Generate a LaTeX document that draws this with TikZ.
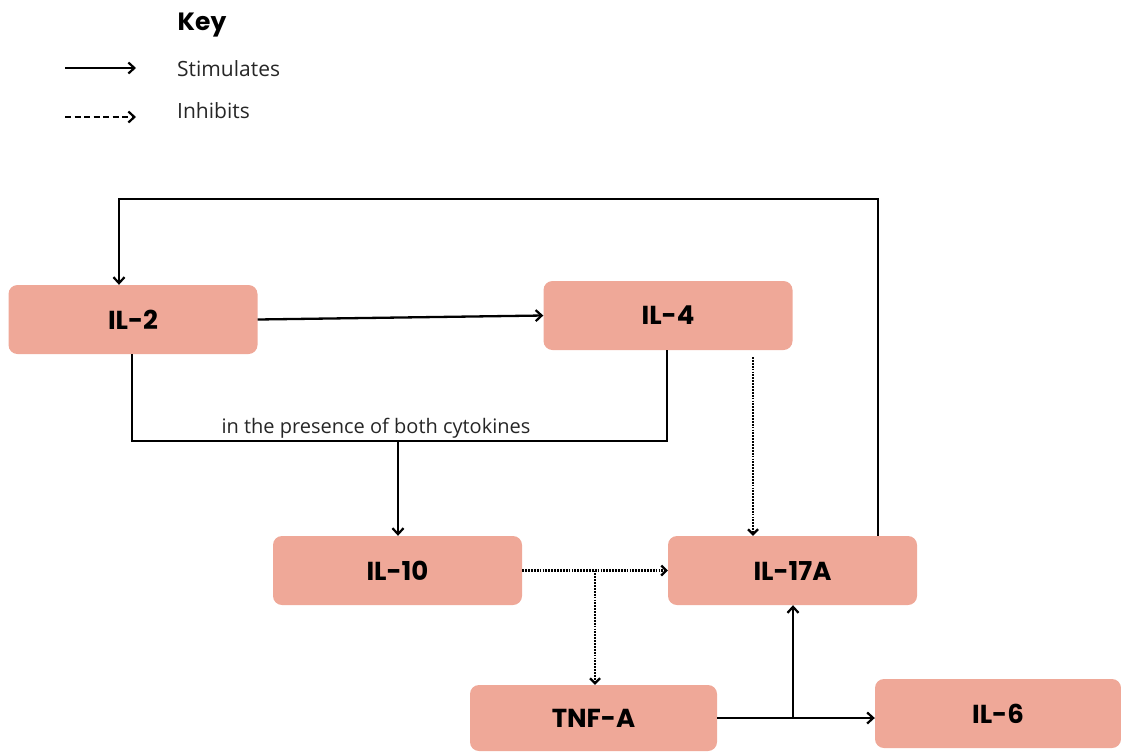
\documentclass[tikz,border=0pt]{standalone}
\usepackage{fontspec}
\setmainfont{Open Sans}
\newfontfamily\pop{Poppins}
\usetikzlibrary{arrows.meta}
\definecolor{boxfill}{HTML}{EFA898}
\tikzset{
  cyto/.style={fill=boxfill, rounded corners=9pt, minimum width=249pt, minimum height=69pt, inner sep=0pt,
    font=\pop\bfseries\fontsize{26}{30}\selectfont, text=black},
  conn/.style={line width=2.3pt, draw=black},
  stim/.style={conn, -{Straight Barb[length=6pt,width=11pt,line width=2.2pt]}},
  inh/.style={line width=2.5pt, draw=black, dash pattern=on 1.8pt off 1.1pt, -{Straight Barb[length=5pt,width=10pt,line width=2.2pt]}},
  inhkey/.style={line width=2.4pt, draw=black, dash pattern=on 6pt off 3.5pt, -{Straight Barb[length=6pt,width=11pt,line width=2.2pt]}},
  keytxt/.style={font=\fontsize{21}{24}\selectfont, anchor=west, inner sep=0pt, text=black!85},
}
\begin{document}
\begin{tikzpicture}[x=1pt, y=-1pt]
\useasboundingbox (0,0) rectangle (1121,753);
% key
\node[font=\pop\bfseries\fontsize{25}{28}\selectfont, inner sep=0pt] (key) at (202,25) {Key};
\coordinate (k1s) at (65,68);
\coordinate (k1e) at (136,68);
\coordinate (k2s) at (65,117);
\coordinate (k2e) at (136,117);
\draw[stim] (k1s) -- (k1e);
\draw[inhkey] (k2s) -- (k2e);
\node[keytxt] (stimtxt) at (177,69) {Stimulates};
\node[keytxt] (inhtxt) at (177,111) {Inhibits};
% boxes
\node[cyto] (il2) at (133,319.5) {IL-2};
\node[cyto] (il4) at (668,315.5) {IL-4};
\node[cyto] (il10) at (397.5,570.5) {IL-10};
\node[cyto] (il17) at (792.5,570.5) {IL-17A};
\node[cyto, minimum width=247pt, minimum height=66pt] (tnf) at (593.5,718) {TNF-A};
\node[cyto, minimum width=246pt] (il6) at (998,713.5) {IL-6};
% feedback
\coordinate (fbL) at (119,199);
\coordinate (fbR) at (878,199);
\draw[stim] (il17.north -| fbR) -- (fbR) -- (fbL) -- (il2.north -| fbL);
% IL-2 -> IL-4
\draw[stim] (il2.east) -- (il4.west);
% both cytokines
\coordinate (jl) at (132,441);
\coordinate (jr) at (667,441);
\coordinate (jm) at (398,441);
\draw[conn] (il2.south -| jl) -- (jl) -- (jr) -- (il4.south -| jr);
\draw[stim] (jm) -- (il10.north -| jm);
\node[font=\fontsize{20}{23}\selectfont, inner sep=0pt, text=black!85] (both) at (376,428) {in the presence of both cytokines};
% inhibitions
\coordinate (d1) at (753,357);
\draw[inh] (d1) -- (il17.north -| d1);
\draw[inh] (il10.east) -- (il17.west);
\coordinate (br) at (595,570.5);
\draw[inh] (br) -- (tnf.north -| br);
% TNF-A
\draw[stim] (tnf.east) -- (tnf.east -| il6.west);
\coordinate (br2) at (793,718);
\draw[stim] (br2) -- (il17.south -| br2);
\end{tikzpicture}
\end{document}
